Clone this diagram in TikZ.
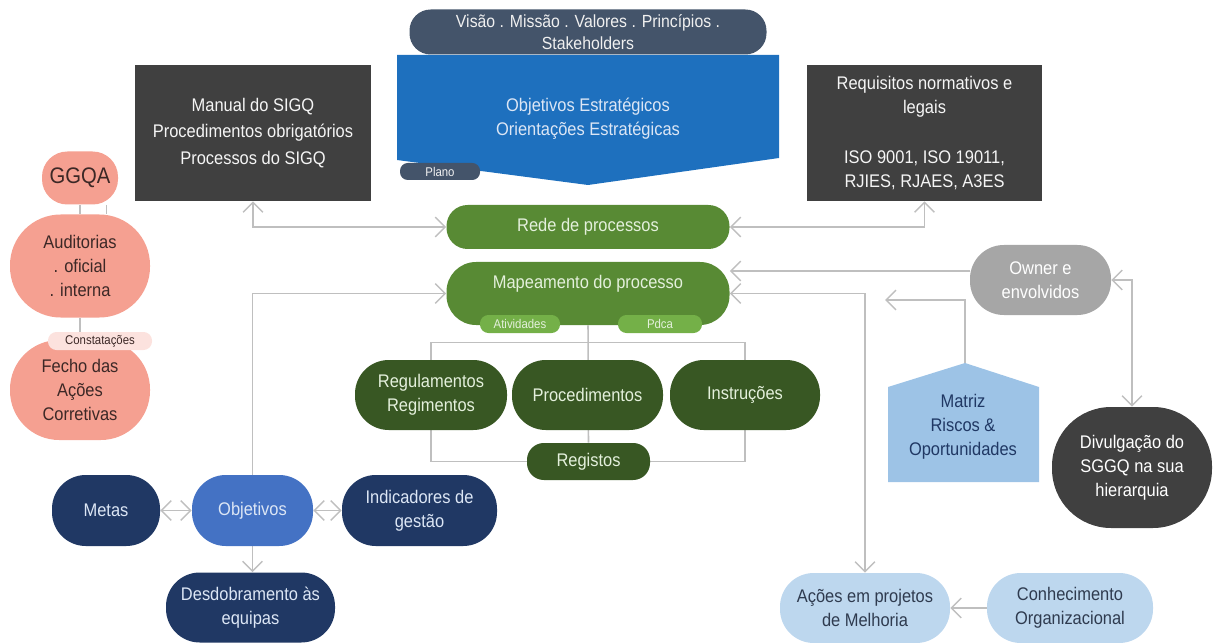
\documentclass[tikz,border=0pt]{standalone}
\usepackage{fontspec}
\setmainfont[FakeStretch=0.9]{Liberation Sans}
\usetikzlibrary{arrows.meta,backgrounds}

\definecolor{ardosia}{RGB}{68,84,106}
\definecolor{azulplano}{RGB}{30,112,190}
\definecolor{cinzaesc}{RGB}{64,64,64}
\definecolor{verde}{RGB}{88,138,52}
\definecolor{verdeclaro}{RGB}{116,176,72}
\definecolor{verdeesc}{RGB}{56,87,35}
\definecolor{salmao}{RGB}{245,160,145}
\definecolor{rosa}{RGB}{252,226,222}
\definecolor{marinho}{RGB}{32,56,100}
\definecolor{azulobj}{RGB}{68,114,196}
\definecolor{azulmatriz}{RGB}{157,195,230}
\definecolor{azulclaro}{RGB}{189,215,238}
\definecolor{cinza}{RGB}{166,166,166}
\definecolor{linha}{RGB}{191,191,191}
\definecolor{textoverde}{RGB}{228,240,220}
\definecolor{textoazul}{RGB}{220,230,245}
\definecolor{textoescuro}{RGB}{47,59,79}
\definecolor{textorosa}{RGB}{60,40,38}

\tikzset{
  caixa/.style={rectangle, inner sep=0pt, align=center, font=\fontsize{13}{17}\selectfont},
  pill/.style={caixa, rounded corners=#1},
  dim/.style 2 args={minimum width=#1*0.025cm, minimum height=#2*0.025cm},
  pequeno/.style={font=\fontsize{9}{10}\selectfont},
  lig/.style={draw=linha, line width=1.1pt},
  seta/.style={lig, -{Straight Barb[length=7pt,width=14pt]}},
  setas/.style={lig, {Straight Barb[length=7pt,width=14pt]}-{Straight Barb[length=7pt,width=14pt]}},
}

\begin{document}
\begin{tikzpicture}[x=0.025cm, y=-0.025cm]
  \useasboundingbox (0,0) rectangle (1218,643);

  % plano estrategico
  \fill[azulplano] (397,55) -- (779,55) -- (779,158) -- (588,185) -- (397,160) -- cycle;
  \node [caixa, text=textoazul] (estrat) at (588,119) {Objetivos Estratégicos\\Orientações Estratégicas};
  \node [pill=15pt, dim={357}{45}, fill=ardosia, text=gray!12, font=\fontsize{12.5}{16}\selectfont] (visao) at (588,32)
    {Visão . Missão . Valores . Princípios .\\Stakeholders};
  \node [pill=5.5pt, dim={80}{17}, fill=ardosia, text=gray!10, pequeno] (plano) at (440,171.5) {Plano};

  \node [caixa, dim={236}{136}, fill=cinzaesc, text=gray!8, font=\fontsize{13}{19}\selectfont] (manual) at (253,133)
    {Manual do SIGQ\\Procedimentos obrigatórios\\Processos do SIGQ};
  \node [caixa, dim={235}{136}, fill=cinzaesc, text=gray!8] (req) at (924.5,133)
    {Requisitos normativos e\\legais\\[19pt]ISO 9001, ISO 19011,\\RJIES, RJAES, A3ES};

  % processos
  \node [pill=15pt, dim={283}{44}, fill=verde, text=textoverde] (rede) at (588,227) {Rede de processos};
  \node [pill=21pt, dim={283}{63}, fill=verde,
    label={[caixa, text=textoverde, yshift=7pt]center:Mapeamento do processo}] (mapa) at (588,293.5) {};
  \node [pill=6pt, dim={80}{18}, fill=verdeclaro, text=textoverde, pequeno] (ativ) at (520,324) {Atividades};
  \node [pill=6pt, dim={84}{18}, fill=verdeclaro, text=textoverde, pequeno] (pdca) at (660,324) {Pdca};
  \node [pill=24pt, dim={152}{70}, fill=verdeesc, text=textoverde] (regul) at (431,395) {Regulamentos\\Regimentos};
  \node [pill=24pt, dim={151}{70}, fill=verdeesc, text=textoverde] (proc) at (587.5,395) {Procedimentos};
  \node [pill=24pt, dim={150}{70}, fill=verdeesc, text=textoverde] (instr) at (745,395) {Instruções};
  \node [pill=12pt, dim={123}{37}, fill=verdeesc, text=textoverde] (regist) at (588.5,461.5) {Registos};

  % auditorias
  \node [pill=18pt, dim={76}{53}, fill=salmao, text=textorosa, font=\fontsize{16}{18}\selectfont] (ggqa) at (80,178) {GGQA};
  \node [pill=36pt, dim={140}{103}, fill=salmao, text=textorosa] (audit) at (80,266) {Auditorias\\. oficial\\. interna};
  \node [pill=35pt, dim={140}{100}, fill=salmao, text=textorosa] (fecho) at (80,390) {Fecho das\\Ações\\Corretivas};
  \node [pill=6pt, dim={104}{18}, fill=rosa, text=textorosa, pequeno] (constat) at (100,341) {Constatações};

  % objetivos
  \node [pill=24pt, dim={108}{71}, fill=marinho, text=textoazul] (metas) at (106,510.5) {Metas};
  \node [pill=24pt, dim={121}{71}, fill=azulobj, text=textoazul] (objetivos) at (252.5,510.5) {Objetivos};
  \node [pill=24pt, dim={155}{71}, fill=marinho, text=textoazul] (indic) at (419.5,510.5) {Indicadores de\\gestão};
  \node [pill=24pt, dim={169}{70}, fill=marinho, text=textoazul] (desdob) at (250.5,607.5) {Desdobramento às\\equipas};

  % lado direito
  \node [pill=24pt, dim={141}{70}, fill=cinza, text=white] (owner) at (1040.5,280) {Owner e\\envolvidos};
  \fill[azulmatriz] (888,387) -- (965,363) -- (1039,387) -- (1039,482) -- (888,482) -- cycle;
  \node [caixa, text=marinho] (matriz) at (963,427) {Matriz\\Riscos \&\\Oportunidades};
  \coordinate (mtopo) at (965,363);
  \coordinate (mfim) at (885,300);
  \node [pill=42pt, dim={160}{121}, fill=cinzaesc, text=white] (divul) at (1132,467.5) {Divulgação do\\SGGQ na sua\\hierarquia};
  \node [pill=24pt, dim={170}{70}, fill=azulclaro, text=textoescuro] (acoes) at (865,608) {Ações em projetos\\de Melhoria};
  \node [pill=24pt, dim={166}{70}, fill=azulclaro, text=textoescuro] (conhec) at (1070,608) {Conhecimento\\Organizacional};

  \coordinate (ow) at ([yshift=6.4pt]owner.west);

  \begin{scope}[on background layer]
    \draw[setas] (manual.south) |- (rede.west);
    \draw[setas] (rede.east) -| (req.south);
    \draw[seta] (objetivos.north) |- (mapa.west);
    \draw[seta] (ow) -- (ow -| mapa.east);
    \draw[setas] (mapa.east) -| (acoes.north);
    \draw[seta] (mtopo) |- (mfim);
    \draw[setas] (owner.east) -| (divul.north);
    \draw[seta] (conhec) -- (acoes);
    \draw[setas] (metas) -- (objetivos);
    \draw[setas] (objetivos) -- (indic);
    \draw[seta] (objetivos.south) -- (objetivos.south |- desdob.north);
    % arvore do mapeamento
    \draw[lig] (mapa.south) -- (regist.north);
    \draw[lig] (regul.north) -- ++(0,-17) -| (instr.north);
    \draw[lig] (regul) |- (regist);
    \draw[lig] (instr) |- (regist);
    % coluna das auditorias
    \draw[lig] (audit) -- (fecho);
    \draw[lig, line width=0.8pt] (ggqa.south) -- (audit.north);
    \draw[lig, line width=0.8pt] ([xshift=19pt]ggqa.south) -- ([xshift=19pt]audit.north);
  \end{scope}
\end{tikzpicture}
\end{document}
